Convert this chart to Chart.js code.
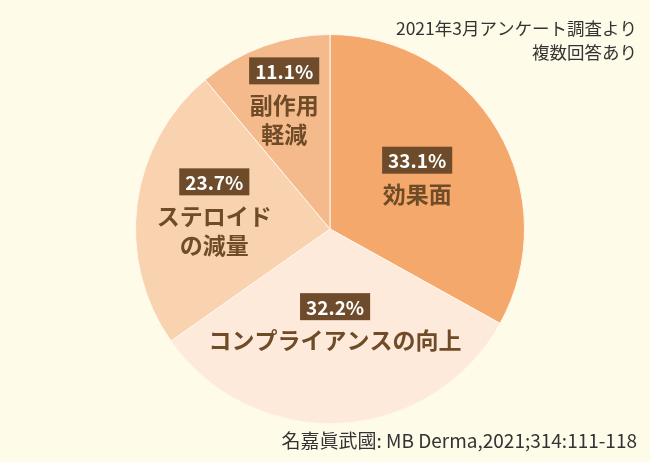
<!DOCTYPE html>
<html>
<head>
<meta charset="utf-8">
<script src="https://cdn.jsdelivr.net/npm/chart.js@4"></script>
<style>
  html, body { margin: 0; padding: 0; background: #fffbe9; }
  #wrap { position: relative; width: 650px; height: 462px; }
</style>
</head>
<body>
<div id="wrap"><canvas id="pie" width="650" height="462"></canvas></div>
<script>
const categories = [["効果面"], ["コンプライアンスの向上"], ["ステロイド", "の減量"], ["副作用", "軽減"]];
const values = [33.1, 32.2, 23.7, 11.1];
const sliceColors = ["#f5a86b", "#fdeadb", "#f9d3b0", "#f4ba8c"];
const labelRadius = [0.52, 0.49, 0.6, 0.69];
const noteLines = ["2021年3月アンケート調査より", "複数回答あり"];
const sourceText = "名嘉眞武國: MB Derma,2021;314:111-118";

const FONT = '"Noto Sans CJK JP", "Noto Sans", sans-serif';
const BROWN = "#6f4b27";

const sliceLabels = {
  id: "sliceLabels",
  afterDatasetsDraw(chart) {
    const ctx = chart.ctx;
    const meta = chart.getDatasetMeta(0);
    meta.data.forEach((arc, i) => {
      const mid = (arc.startAngle + arc.endAngle) / 2;
      const r = arc.outerRadius * labelRadius[i];
      const cx = arc.x + Math.cos(mid) * r;
      const cy = arc.y + Math.sin(mid) * r;
      const lines = categories[i];
      const lineH = 29;
      const boxH = 27;
      const total = boxH + 6 + lines.length * lineH;
      let top = cy - total / 2;

      ctx.save();
      ctx.font = "bold 19px " + FONT;
      const pct = values[i].toFixed(1) + "%";
      const w = ctx.measureText(pct).width + 12;
      ctx.fillStyle = "#6e4b2b";
      ctx.fillRect(cx - w / 2, top, w, boxH);
      ctx.fillStyle = "#ffffff";
      ctx.textAlign = "center";
      ctx.textBaseline = "middle";
      ctx.fillText(pct, cx, top + boxH / 2 + 1);

      ctx.font = "bold 23px " + FONT;
      ctx.fillStyle = BROWN;
      lines.forEach((t, k) => {
        ctx.fillText(t, cx, top + boxH + 6 + lineH * k + lineH / 2);
      });
      ctx.restore();
    });

    ctx.save();
    ctx.fillStyle = "#333333";
    ctx.textAlign = "right";
    ctx.textBaseline = "middle";
    ctx.font = "17.5px " + FONT;
    ctx.fillText(noteLines[0], 637, 28);
    ctx.fillText(noteLines[1], 637, 52);
    ctx.font = "19px " + FONT;
    ctx.fillText(sourceText, 637, 441);
    ctx.restore();
  }
};

new Chart(document.getElementById("pie"), {
  type: "pie",
  data: {
    labels: categories.map((c) => c.join("")),
    datasets: [{
      data: values,
      backgroundColor: sliceColors,
      borderColor: "#fff6ec",
      borderWidth: 1
    }]
  },
  options: {
    responsive: false,
    animation: false,
    layout: { padding: { top: 34, bottom: 38, left: 135, right: 125 } },
    plugins: {
      legend: { display: false },
      tooltip: { enabled: false }
    }
  },
  plugins: [sliceLabels]
});
</script>
</body>
</html>
